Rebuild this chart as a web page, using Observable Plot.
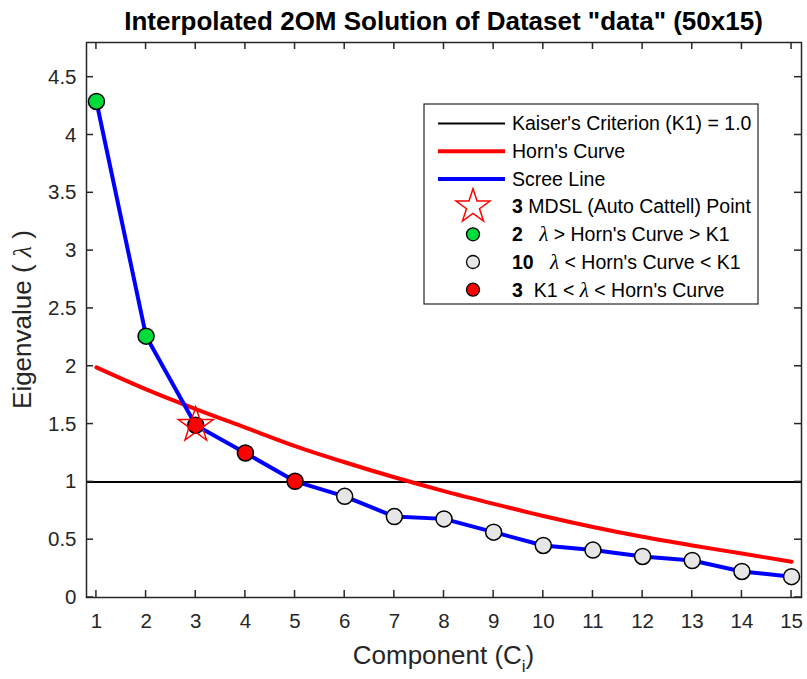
<!DOCTYPE html>
<html><head><meta charset="utf-8">
<script src="https://cdn.jsdelivr.net/npm/d3@7"></script>
<script src="https://cdn.jsdelivr.net/npm/@observablehq/plot@0.6"></script>
<style>body{margin:0;background:#fff} svg{display:block}</style>
</head><body><div id="chart"></div>
<script>
// ---- data ----
const components = [1, 2, 3, 4, 5, 6, 7, 8, 9, 10, 11, 12, 13, 14, 15];
const eigenvalues = [4.29, 2.26, 1.49, 1.25, 1.005, 0.875, 0.70, 0.68, 0.565, 0.45, 0.41, 0.355, 0.32, 0.225, 0.18];
const hornCurve = [1.99, 1.80, 1.63, 1.47, 1.31, 1.17, 1.04, 0.92, 0.81, 0.705, 0.61, 0.525, 0.45, 0.38, 0.31];
const pointClass = ["above", "above", "between", "between", "between", "below", "below", "below", "below", "below", "below", "below", "below", "below", "below"];
const kaiser = 1.0;
const mdslComponent = 3;
const xTicks = [1, 2, 3, 4, 5, 6, 7, 8, 9, 10, 11, 12, 13, 14, 15];
const yTicks = [0, 0.5, 1, 1.5, 2, 2.5, 3, 3.5, 4, 4.5];
const classColors = {above: "#00dd3a", below: "#e6e6e6", between: "#ff0000"};
const titleText = 'Interpolated 2OM Solution of Dataset "data" (50x15)';

const scree = components.map((c, i) => ({c, v: eigenvalues[i], cls: pointClass[i]}));
const horn = components.map((c, i) => ({c, v: hornCurve[i]}));
const star = scree.filter(d => d.c === mdslComponent);

const W = 807, H = 679;
const mL = 86, mR = 6, mT = 42, mB = 82;
const axisColor = "#262626";
const font = "'Liberation Sans', Arial, Helvetica, sans-serif";

const plot = Plot.plot({
  width: W, height: H,
  marginLeft: mL, marginRight: mR, marginTop: mT, marginBottom: mB,
  style: {fontFamily: font, fontSize: "20.5px", color: axisColor, background: "white", overflow: "visible"},
  x: {domain: [0.8, 15.2]},
  y: {domain: [0, 4.8]},
  marks: [
    Plot.ruleY([kaiser], {stroke: "black", strokeWidth: 2}),
    Plot.line(horn, {x: "c", y: "v", stroke: "#ff0000", strokeWidth: 4, curve: "catmull-rom"}),
    Plot.line(scree, {x: "c", y: "v", stroke: "#0000ff", strokeWidth: 4}),
    Plot.dot(scree, {x: "c", y: "v", r: 8, fill: d => classColors[d.cls], stroke: "black", strokeWidth: 1.5}),
    Plot.dot(star, {x: "c", y: "v", symbol: "star", r: 11, stroke: "#ff0000", fill: "none", strokeWidth: 1.5}),
    Plot.axisX({anchor: "bottom", ticks: xTicks, tickSize: 0, tickPadding: 16, label: null, tickFormat: d => String(d), fill: axisColor}),
    Plot.axisY({anchor: "left", ticks: yTicks, tickSize: 0, tickPadding: 10, label: null, tickFormat: d => String(d), fill: axisColor}),
    Plot.frame({stroke: axisColor, strokeWidth: 1.5})
  ]
});
document.getElementById("chart").appendChild(plot);

const svg = d3.select(plot);
const xs = plot.scale("x"), ys = plot.scale("y");
const x0 = mL, x1 = W - mR, y0 = H - mB, y1 = mT, tl = 7;

// inward ticks on all four sides, positioned through Plot's scales
const tg = svg.append("g").attr("stroke", axisColor).attr("stroke-width", 1.5);
xTicks.forEach(t => {
  const px = xs.apply(t);
  tg.append("line").attr("x1", px).attr("x2", px).attr("y1", y0).attr("y2", y0 - tl);
  tg.append("line").attr("x1", px).attr("x2", px).attr("y1", y1).attr("y2", y1 + tl);
});
yTicks.forEach(t => {
  const py = ys.apply(t);
  tg.append("line").attr("y1", py).attr("y2", py).attr("x1", x0).attr("x2", x0 + tl);
  tg.append("line").attr("y1", py).attr("y2", py).attr("x1", x1).attr("x2", x1 - tl);
});

const cx = (mL + (W - mR)) / 2;

// title
svg.append("text").attr("x", cx).attr("y", 30).attr("text-anchor", "middle")
  .attr("font-family", font).attr("font-weight", "bold").attr("font-size", 26).attr("fill", "black")
  .text(titleText);

// x label
const xl = svg.append("text").attr("x", cx).attr("y", 664).attr("text-anchor", "middle")
  .attr("font-family", font).attr("font-size", 26).attr("fill", axisColor);
xl.append("tspan").text("Component (C");
xl.append("tspan").attr("font-size", 17).attr("dy", 8).text("i");
xl.append("tspan").attr("dy", -8).text(")");

// y label
const yl = svg.append("text").attr("transform", `translate(31,${(mT + H - mB) / 2}) rotate(-90)`)
  .attr("text-anchor", "middle").attr("font-family", font).attr("font-size", 26).attr("fill", axisColor)
  .attr("xml:space", "preserve");
yl.append("tspan").text("Eigenvalue ( ");
yl.append("tspan").attr("font-family", "'Liberation Serif', serif").attr("font-style", "italic").text("λ");
yl.append("tspan").text(" )");

// legend
const lx = 424, ly = 104, lw = 334, lh = 200;
const g = svg.append("g").attr("font-family", font).attr("font-size", 19.5).attr("fill", "black")
  .attr("text-anchor", "start");
g.append("rect").attr("x", lx).attr("y", ly).attr("width", lw).attr("height", lh)
  .attr("fill", "white").attr("stroke", axisColor).attr("stroke-width", 1.2);
const rowY = i => ly + 19.5 + i * 27.7;
const sx1 = lx + 14, sx2 = lx + 81, mx = lx + 49, tx = lx + 88;
const lines = [
  {stroke: "black", w: 2, label: "Kaiser's Criterion (K1) = 1.0"},
  {stroke: "#ff0000", w: 4, label: "Horn's Curve"},
  {stroke: "#0000ff", w: 4, label: "Scree Line"}
];
lines.forEach((l, i) => {
  g.append("line").attr("x1", sx1).attr("x2", sx2).attr("y1", rowY(i)).attr("y2", rowY(i))
    .attr("stroke", l.stroke).attr("stroke-width", l.w);
  g.append("text").attr("x", tx).attr("y", rowY(i)).attr("dy", "0.35em").text(l.label);
});
// star row
g.append("path").attr("d", d3.symbol(d3.symbolStar, 360)()).attr("transform", `translate(${mx},${rowY(3)})`)
  .attr("fill", "none").attr("stroke", "#ff0000").attr("stroke-width", 1.5);
const countOf = k => pointClass.filter(p => p === k).length;
const markerRows = [
  {parts: [["b", "3"], ["t", " MDSL (Auto Cattell) Point"]]},
  {fill: classColors.above, parts: [["b", String(countOf("above"))], ["t", "   "], ["l", "λ"], ["t", " > Horn's Curve > K1"]]},
  {fill: classColors.below, parts: [["b", String(countOf("below"))], ["t", "   "], ["l", "λ"], ["t", " < Horn's Curve < K1"]]},
  {fill: classColors.between, parts: [["b", String(countOf("between"))], ["t", "  K1 < "], ["l", "λ"], ["t", " < Horn's Curve"]]}
];
markerRows.forEach((r, j) => {
  const i = j + 3;
  if (r.fill) g.append("circle").attr("cx", mx).attr("cy", rowY(i)).attr("r", 6.5)
    .attr("fill", r.fill).attr("stroke", "black").attr("stroke-width", 1.3);
  const t = g.append("text").attr("x", tx).attr("y", rowY(i)).attr("dy", "0.35em").attr("xml:space", "preserve");
  r.parts.forEach(([k, s]) => {
    const sp = t.append("tspan").text(s);
    if (k === "b") sp.attr("font-weight", "bold");
    if (k === "l") sp.attr("font-family", "'Liberation Serif', serif").attr("font-style", "italic").attr("font-size", 21);
  });
});
</script>
</body></html>
